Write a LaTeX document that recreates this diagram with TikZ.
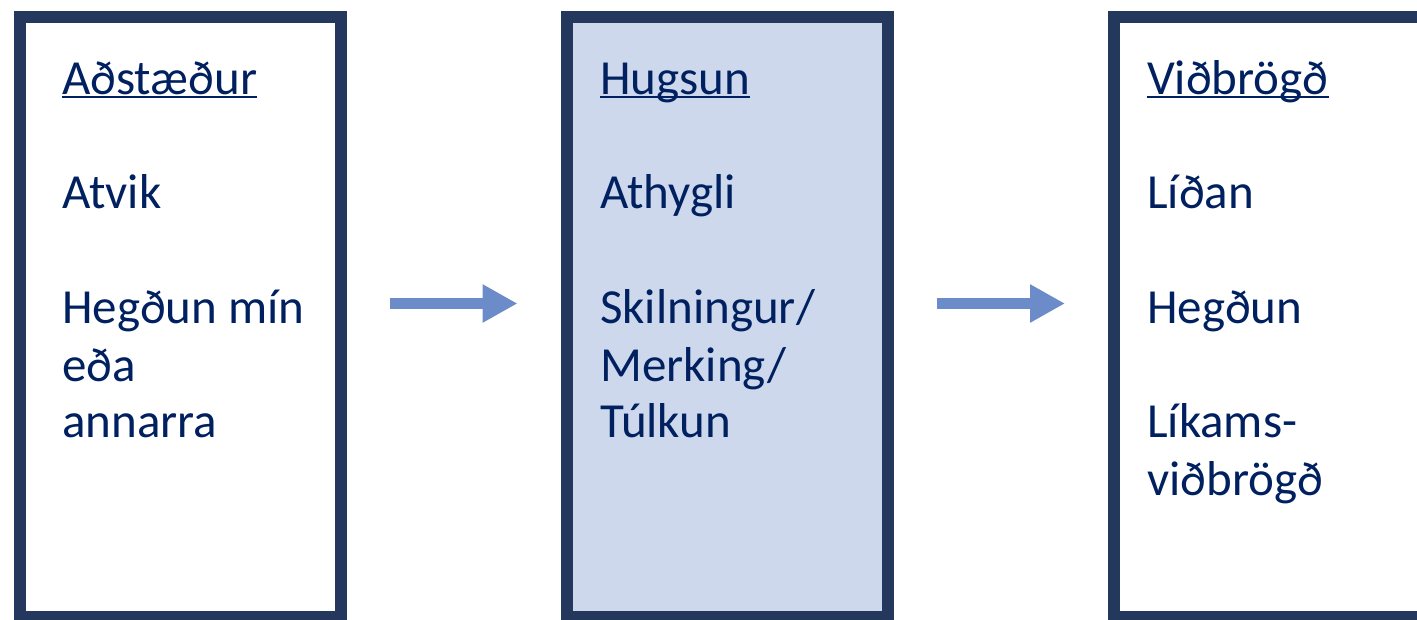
\documentclass[tikz,border=0pt]{standalone}
\usepackage{fontspec}
\setmainfont{Carlito}
\usetikzlibrary{arrows.meta,positioning,calc}

\definecolor{boxnavy}{RGB}{36,56,94}
\definecolor{textnavy}{RGB}{0,32,96}
\definecolor{thinkfill}{RGB}{205,216,236}
\definecolor{arrowblue}{RGB}{107,140,200}

\tikzset{
  stagebox/.style={draw=boxnavy, line width=12pt, minimum width=321pt,
    minimum height=600pt, inner sep=0pt},
  txt/.style={anchor=base west, inner sep=0pt, text=textnavy,
    font=\fontsize{49}{57}\selectfont},
  headline/.style={draw=textnavy, line width=2.5pt},
  flow/.style={draw=arrowblue, line width=11pt,
    -{Triangle[length=35pt,width=36pt]}, shorten <=43pt, shorten >=43pt}
}

\begin{document}
\begin{tikzpicture}[x=1pt,y=-1pt]
\useasboundingbox (0,0) rectangle (1417,619);
\clip (0,0) rectangle (1417,619);

% Kassar
\node[stagebox] (sit) at (180.5,317) {};
\node[stagebox, fill=thinkfill] (think) at (727,317) {};
\node[stagebox] (react) at (1274.5,317) {};

% Orvar
\draw[flow] ([yshift=13.5pt]sit.east) -- ([yshift=13.5pt]think.west);
\draw[flow] ([yshift=13.5pt]think.east) -- ([yshift=13.5pt]react.west);

% Aðstæður
\node[txt] (sithead) at (62,94) {Aðstæður};
\draw[headline] ([yshift=-3pt]sithead.base west) -- ([yshift=-3pt]sithead.base east);
\node[txt] (sit1) at (62,208) {Atvik};
\node[txt] (sit2) at (62,323) {Hegðun mín};
\node[txt] (sit3) at (62,381) {eða};
\node[txt] (sit4) at (62,437) {annarra};

% Hugsun
\node[txt] (thinkhead) at (600,94) {Hugsun};
\draw[headline] ([yshift=-3pt]thinkhead.base west) -- ([yshift=-3pt]thinkhead.base east);
\node[txt] (think1) at (600,208) {Athygli};
\node[txt] (think2) at (600,323) {Skilningur/};
\node[txt] (think3) at (600,381) {Merking/};
\node[txt] (think4) at (600,437) {Túlkun};

% Viðbrögð
\node[txt] (reacthead) at (1147,94) {Viðbrögð};
\draw[headline] ([yshift=-3pt]reacthead.base west) -- ([yshift=-3pt]reacthead.base east);
\node[txt] (react1) at (1147,208) {Líðan};
\node[txt] (react2) at (1147,323) {Hegðun};
\node[txt] (react3) at (1147,437) {Líkams-};
\node[txt] (react4) at (1147,495) {viðbrögð};

\end{tikzpicture}
\end{document}
